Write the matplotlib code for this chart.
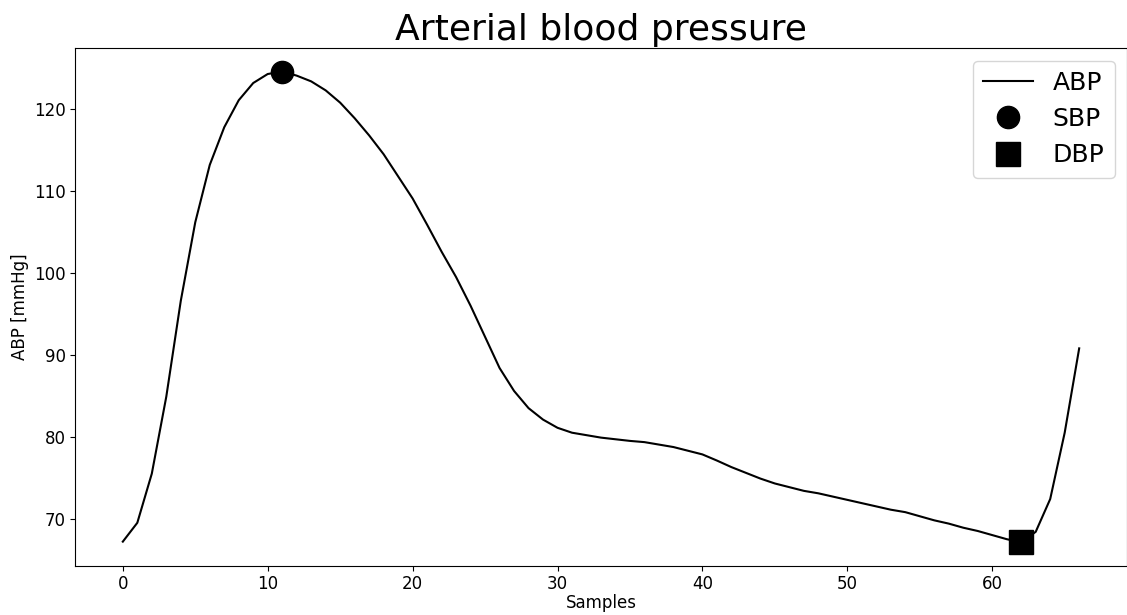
import matplotlib
matplotlib.use('Agg')
import matplotlib.pyplot as plt
import numpy as np

# ABP waveform, one value per sample (mmHg)
abp = [67.2, 69.5, 75.5, 84.9, 96.6, 106.2, 113.2, 117.8, 121.1, 123.2,
       124.3, 124.6, 124.1, 123.4, 122.3, 120.8, 118.9, 116.8, 114.5, 111.8,
       109.1, 105.9, 102.6, 99.5, 96.0, 92.2, 88.4, 85.6, 83.5, 82.1,
       81.1, 80.5, 80.2, 79.9, 79.7, 79.5, 79.35, 79.05, 78.75, 78.3,
       77.85, 77.1, 76.3, 75.6, 74.9, 74.3, 73.85, 73.4, 73.1, 72.7,
       72.3, 71.9, 71.5, 71.1, 70.8, 70.3, 69.8, 69.4, 68.9, 68.5,
       68.0, 67.5, 67.1, 68.4, 72.4, 80.5, 90.8]
samples = np.arange(len(abp))

sbp_idx = 11
dbp_idx = 62

fig = plt.figure(figsize=(11.27, 6.15), dpi=100)
ax = fig.add_axes([75/1127, 49/615, 1052/1127, 518/615])

ax.plot(samples, abp, color='black', lw=1.5, label='ABP')
ax.plot(samples[sbp_idx], abp[sbp_idx], 'o', color='black', ms=16, label='SBP')
ax.plot(samples[dbp_idx], abp[dbp_idx], 's', color='black', ms=17, label='DBP')

ax.set_title('Arterial blood pressure', fontsize=26)
ax.set_xlabel('Samples', fontsize=12, labelpad=1)
ax.set_ylabel('ABP [mmHg]', fontsize=12)
ax.tick_params(labelsize=12, pad=3)
ax.legend(loc='upper right', fontsize=18)

plt.savefig('out.png', dpi=100)
plt.close(fig)
